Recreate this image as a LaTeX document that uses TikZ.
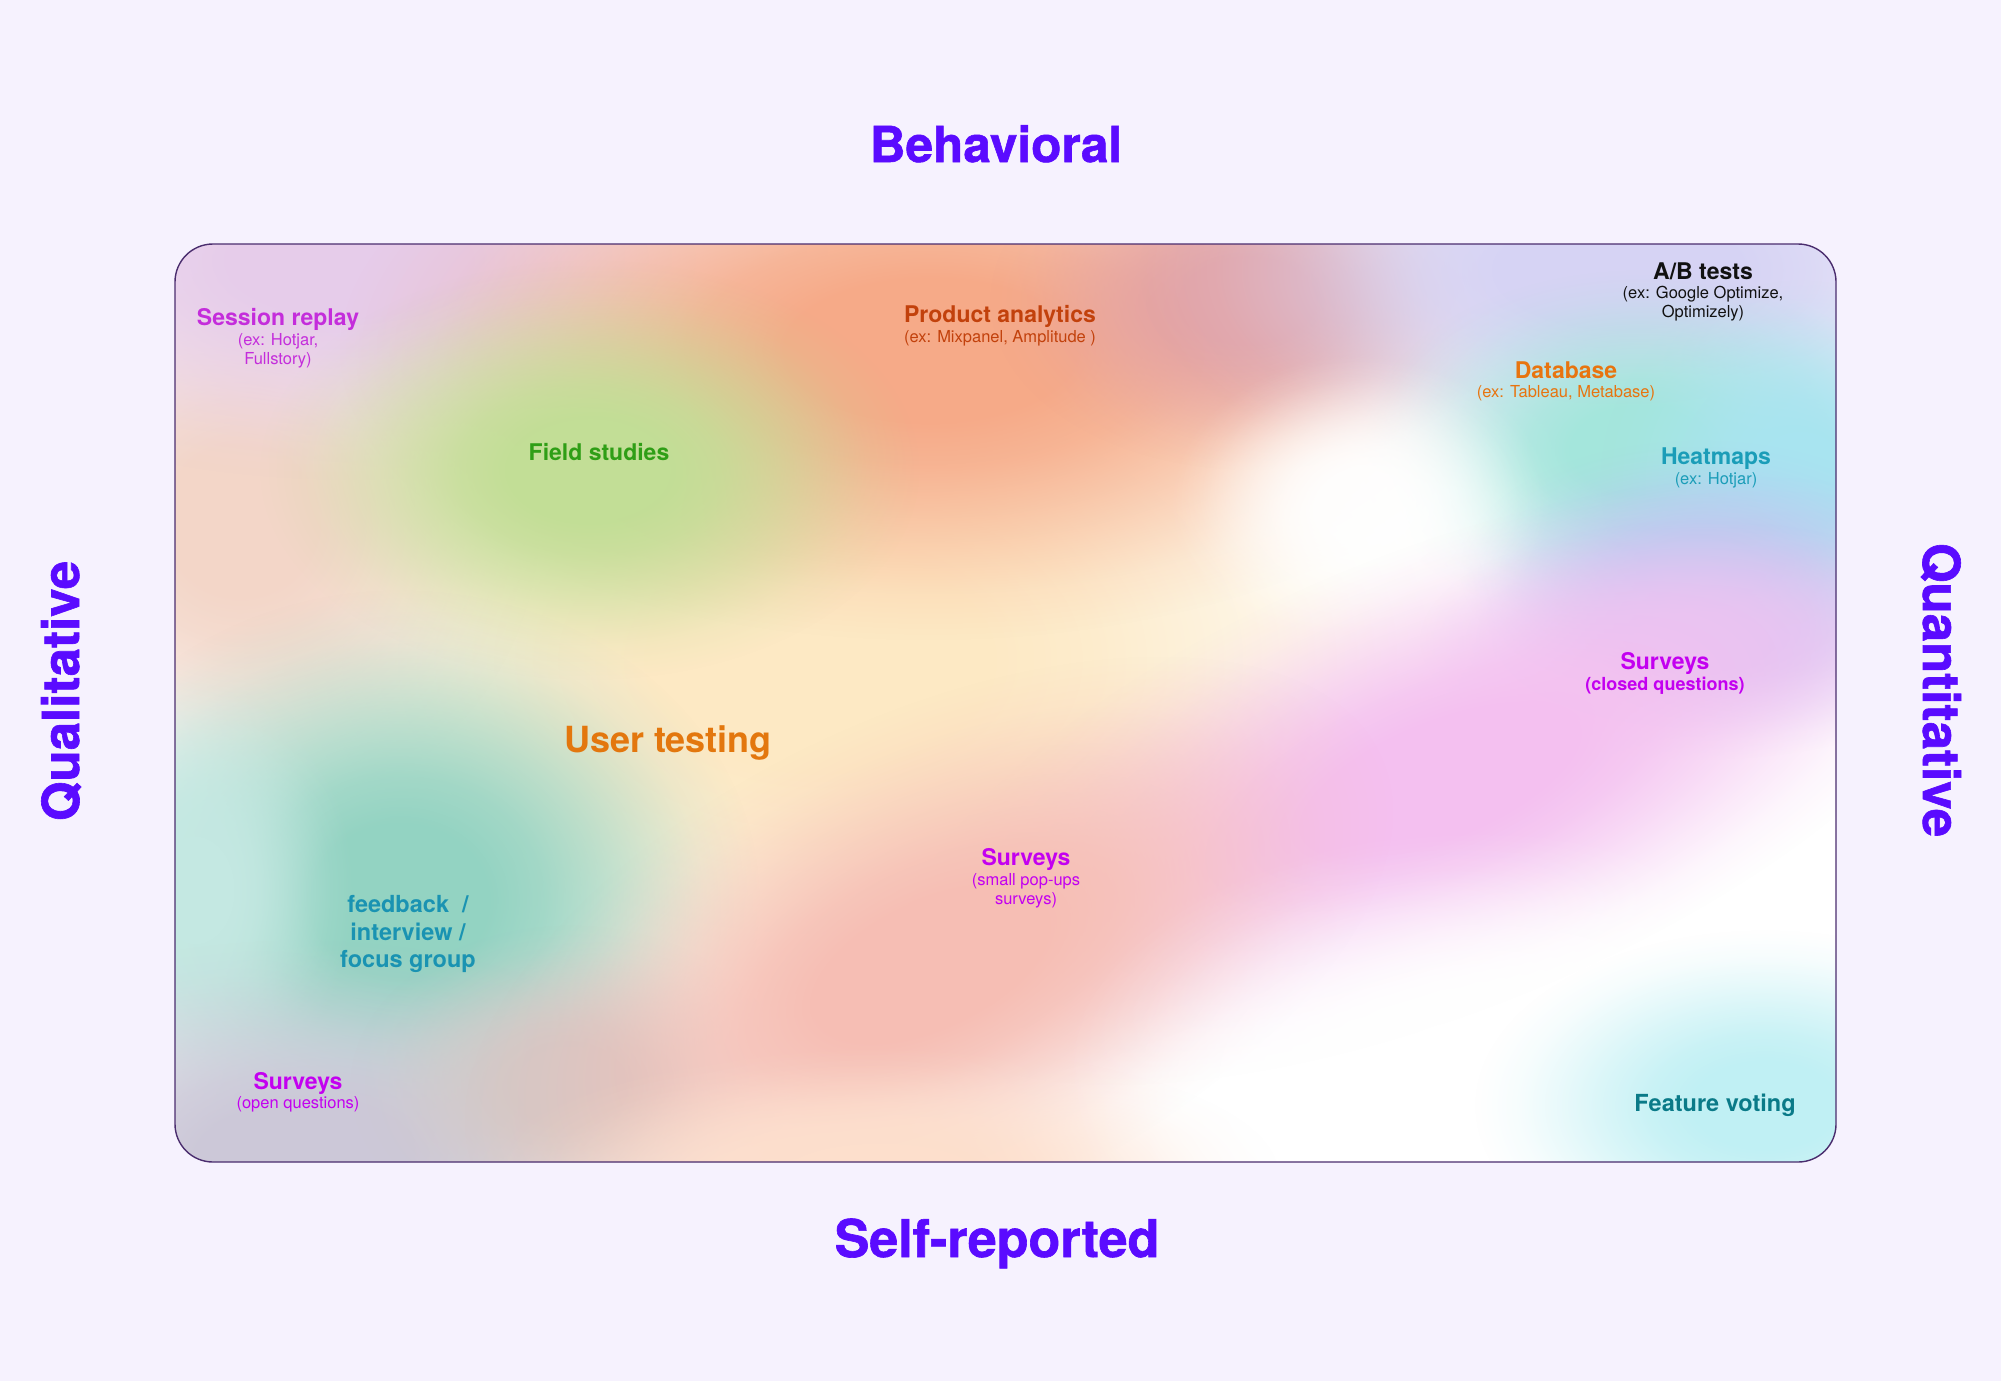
\documentclass[tikz,border=0pt]{standalone}
\usepackage{fontspec}
\setmainfont{TeX Gyre Heros}
\newfontfamily\axisf{TeX Gyre Heros}[FakeBold=1.2]
\usetikzlibrary{fadings}
\definecolor{bgc}{HTML}{F6F2FE}
\definecolor{boxc}{HTML}{4A2D6E}
\definecolor{titlec}{HTML}{5A0BFF}
\definecolor{sessc}{HTML}{C42DDB}
\definecolor{prodc}{HTML}{C2410C}
\definecolor{fieldc}{HTML}{2F9E16}
\definecolor{abc}{HTML}{111111}
\definecolor{dbc}{HTML}{E8740F}
\definecolor{heatc}{HTML}{1B9DB8}
\definecolor{survc}{HTML}{C300F0}
\definecolor{userc}{HTML}{E3770E}
\definecolor{feedc}{HTML}{1A93B2}
\definecolor{featc}{HTML}{0A7A88}
% blob colours
\definecolor{bcream}{HTML}{FDE9C4}
\definecolor{bpeach}{HTML}{F3D6C8}
\definecolor{blav}{HTML}{E6CCEA}
\definecolor{bsalmon}{HTML}{F6AA88}
\definecolor{brose}{HTML}{E3A2A4}
\definecolor{blavtr}{HTML}{D6D3F4}
\definecolor{bteal}{HTML}{A4E6DC}
\definecolor{bcyan}{HTML}{A8E4F0}
\definecolor{bblue}{HTML}{B6CCF0}
\definecolor{bpurp}{HTML}{DCC8F4}
\definecolor{bgreen}{HTML}{C2DE96}
\definecolor{bpink}{HTML}{F4C0F0}
\definecolor{btealg}{HTML}{93D3C2}
\definecolor{bmint}{HTML}{C4E8E2}
\definecolor{bgrey}{HTML}{CCC8D8}
\definecolor{bbeige}{HTML}{D4C8C6}
\definecolor{bsalb}{HTML}{F6BEB4}
\definecolor{bpeachb}{HTML}{FDDFCC}
\definecolor{bcyanb}{HTML}{C0F0F4}
\pgfdeclareradialshading{blobsh}{\pgfpointorigin}{color(0bp)=(white); color(6bp)=(white); color(10bp)=(white!85!black); color(14bp)=(white!60!black); color(18bp)=(white!33!black); color(21bp)=(white!14!black); color(24bp)=(white!3!black); color(25bp)=(black); color(50bp)=(black)}
\pgfdeclarefading{blob}{\pgfuseshading{blobsh}}
\begin{document}
\begin{tikzpicture}[x=1pt,y=-1pt,
  blobfill/.style={path fading=blob, fit fading=true},
  lab/.style={inner sep=0pt, anchor=base, font=\fontsize{23}{27}\selectfont\bfseries},
  sub/.style={inner sep=0pt, anchor=base, font=\fontsize{16.5}{19}\selectfont},
  axislab/.style={inner sep=0pt, anchor=base, text=titlec, font=\fontsize{51}{60}\selectfont\axisf\bfseries}]
\useasboundingbox (0,0) rectangle (2001,1381);
\fill[bgc] (0,0) rectangle (2001,1381);
\begin{scope}
\clip[rounded corners=38pt] (175,244) rectangle (1836,1162);
\fill[white] (175,244) rectangle (1836,1162);
\fill[bcream, blobfill] (820,660) ellipse (680 and 440);
\fill[bpeach, blobfill] (240,520) ellipse (300 and 300);
\fill[blav, blobfill] (350,260) ellipse (480 and 220);
\fill[bsalmon, blobfill] (930,350) ellipse (590 and 290);
\fill[brose, blobfill] (1250,300) ellipse (260 and 170);
\fill[blavtr, blobfill] (1620,270) ellipse (480 and 230);
\fill[bteal, blobfill] (1640,450) ellipse (280 and 180);
\fill[bcyan, blobfill] (1800,480) ellipse (200 and 200);
\fill[bblue, blobfill] (1700,570) ellipse (240 and 130);
\fill[bpurp, blobfill] (1700,640) ellipse (280 and 120);
\fill[white, blobfill, fill opacity=0.9] (1360,505) ellipse (190 and 150);
\fill[bgreen, blobfill] (590,470) ellipse (330 and 210);
\begin{scope}[transform canvas={rotate around={22:(1440,780)}}]
\fill[bpink, blobfill] (1440,780) ellipse (580 and 230);
\end{scope}
\fill[btealg, blobfill] (400,900) ellipse (360 and 310);
\fill[bmint, blobfill] (195,890) ellipse (160 and 220);
\fill[bgrey, blobfill] (300,1160) ellipse (420 and 220);
\fill[bbeige, blobfill] (570,1085) ellipse (220 and 160);
\begin{scope}[transform canvas={rotate around={25:(930,965)}}]
\fill[bsalb, blobfill] (930,965) ellipse (500 and 250);
\end{scope}
\fill[bpeachb, blobfill] (880,1175) ellipse (400 and 130);
\fill[white, blobfill] (1480,1080) ellipse (420 and 250);
\fill[bcyanb, blobfill] (1765,1105) ellipse (290 and 175);
\end{scope}
\node[draw=boxc, line width=1.4pt, rounded corners=38pt, minimum width=1661pt, minimum height=918pt, inner sep=0pt] (box) at (1005.5,703) {};
% axis labels
\node[axislab, font=\fontsize{49.5}{60}\selectfont\axisf\bfseries] (behav) at (996,162) {Behavioral};
\node[axislab, font=\fontsize{52}{60}\selectfont\axisf\bfseries] (selfrep) at (997,1257) {Self-reported};
\node[axislab, rotate=90] (qual) at (79,691) {Qualitative};
\node[axislab, rotate=-90] (quant) at (1923,690) {Quantitative};
% labels
\node[lab, text=sessc] (sess) at (278,325) {Session replay};
\node[sub, text=sessc] (sess1) at (278,345) {(ex: Hotjar,};
\node[sub, text=sessc] (sess2) at (278,364) {Fullstory)};
\node[lab, text=prodc] (prod) at (1000,322) {Product analytics};
\node[sub, text=prodc] (prod1) at (1000,342) {(ex: Mixpanel, Amplitude )};
\node[lab, text=fieldc] (field) at (599,460) {Field studies};
\node[lab, text=abc] (ab) at (1703,279) {A/B tests};
\node[sub, text=abc] (ab1) at (1703,298) {(ex: Google Optimize,};
\node[sub, text=abc] (ab2) at (1703,317) {Optimizely)};
\node[lab, text=dbc] (db) at (1566,378) {Database};
\node[sub, text=dbc] (db1) at (1566,397) {(ex: Tableau, Metabase)};
\node[lab, text=heatc] (heat) at (1716,464) {Heatmaps};
\node[sub, text=heatc] (heat1) at (1716,484) {(ex: Hotjar)};
\node[lab, text=survc] (survc) at (1665,669) {Surveys};
\node[lab, text=survc, font=\fontsize{18}{21}\selectfont\bfseries] (survc1) at (1665,690) {(closed questions)};
\node[lab, text=userc, font=\fontsize{36}{42}\selectfont\bfseries] (user) at (668,752) {User testing};
\node[lab, text=survc] (survs) at (1026,865) {Surveys};
\node[sub, text=survc] (survs1) at (1026,885) {(small pop-ups};
\node[sub, text=survc] (survs2) at (1026,904) {surveys)};
\node[lab, text=feedc, font=\fontsize{23.5}{28}\selectfont\bfseries] (feed1) at (408,912) {feedback\ \ /};
\node[lab, text=feedc, font=\fontsize{23.5}{28}\selectfont\bfseries] (feed2) at (408,940) {interview /};
\node[lab, text=feedc, font=\fontsize{23.5}{28}\selectfont\bfseries] (feed3) at (408,967) {focus group};
\node[lab, text=survc] (survo) at (298,1089) {Surveys};
\node[sub, text=survc] (survo1) at (298,1108) {(open questions)};
\node[lab, text=featc, font=\fontsize{23.5}{27}\selectfont\bfseries] (feat) at (1715,1111) {Feature voting};
\end{tikzpicture}
\end{document}
